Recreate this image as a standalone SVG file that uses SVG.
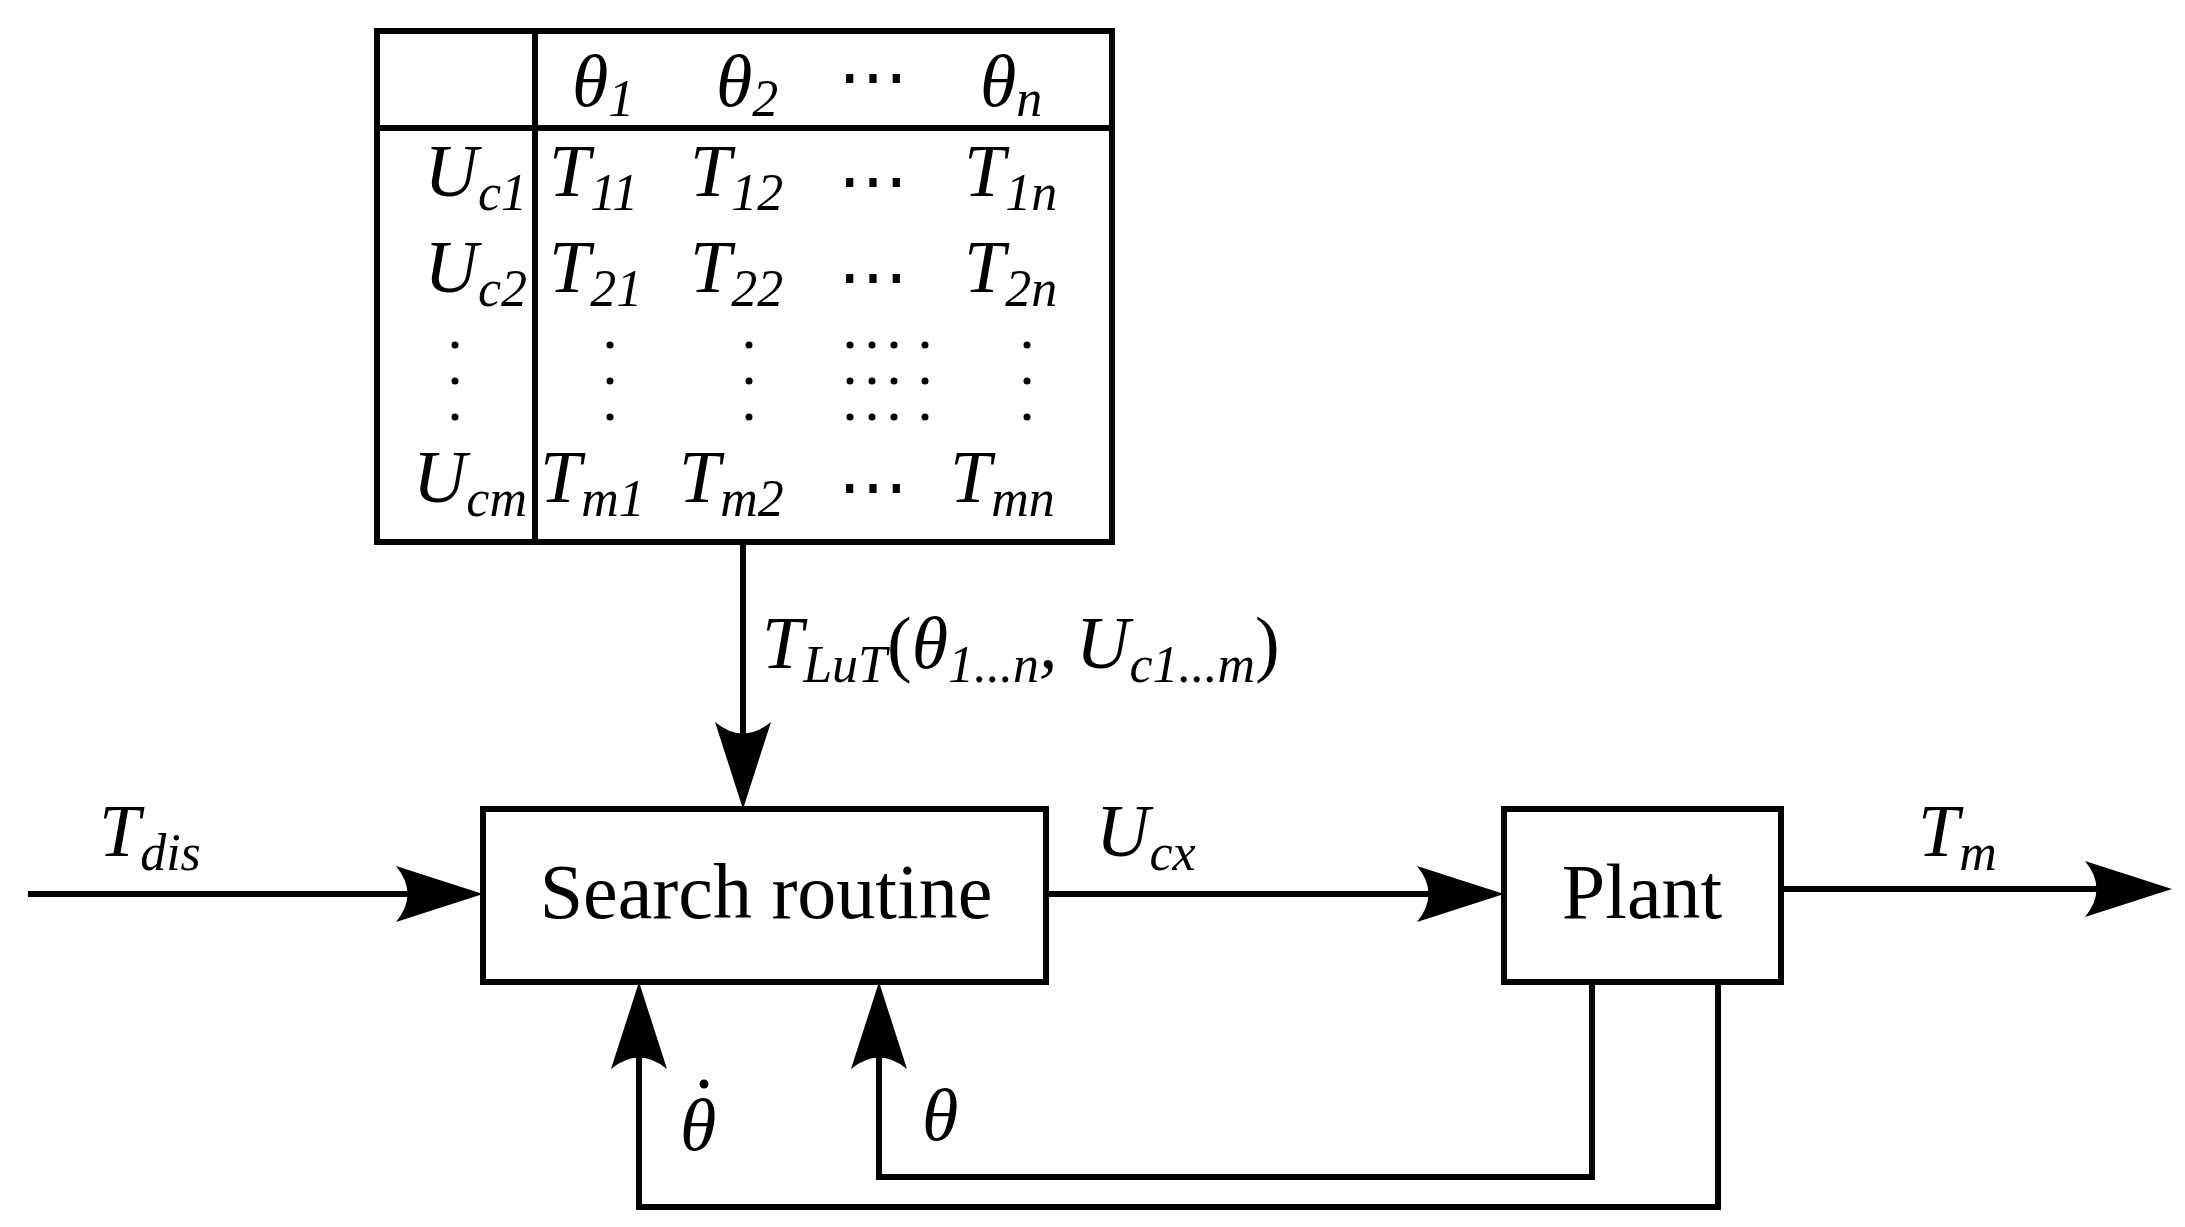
<svg xmlns="http://www.w3.org/2000/svg" width="2185" height="1227" viewBox="0 0 2185 1227">
<style>
.ln{fill:none;stroke:#000;stroke-width:6}
.m{font-family:"Liberation Serif",serif;font-style:italic;font-size:74px;fill:#000}
.s{font-size:52px}
.r{font-family:"Liberation Serif",serif;font-size:78px;fill:#000}
.dt{font-style:normal;font-size:70px}
.ah{fill:#000}
</style>
<rect width="2185" height="1227" fill="#fff"/>
<g id="lut">
<rect class="ln" x="377" y="31" width="735" height="511"/>
<line class="ln" x1="377" y1="128" x2="1112" y2="128"/>
<line class="ln" x1="535" y1="31" x2="535" y2="542"/>
<g class="m">
<text x="572" y="106">θ<tspan class="s" dy="10">1</tspan></text>
<text x="716" y="106">θ<tspan class="s" dy="10">2</tspan></text>
<text class="dt" x="838" y="100">⋯</text>
<text x="980" y="106">θ<tspan class="s" dy="10">n</tspan></text>
<text x="527" y="196" text-anchor="end">U<tspan class="s" dy="14">c1</tspan></text>
<text x="527" y="292" text-anchor="end">U<tspan class="s" dy="14">c2</tspan></text>
<text x="527" y="502" text-anchor="end">U<tspan class="s" dy="14">cm</tspan></text>
<text x="549" y="196">T<tspan class="s" dy="14">11</tspan></text>
<text x="690" y="196">T<tspan class="s" dy="14">12</tspan></text>
<text class="dt" x="838" y="204">⋯</text>
<text x="964" y="196">T<tspan class="s" dy="14">1n</tspan></text>
<text x="549" y="292">T<tspan class="s" dy="14">21</tspan></text>
<text x="690" y="292">T<tspan class="s" dy="14">22</tspan></text>
<text class="dt" x="838" y="300">⋯</text>
<text x="964" y="292">T<tspan class="s" dy="14">2n</tspan></text>
<text x="540" y="502">T<tspan class="s" dy="14">m1</tspan></text>
<text x="679" y="502">T<tspan class="s" dy="14">m2</tspan></text>
<text class="dt" x="838" y="510">⋯</text>
<text x="950" y="502">T<tspan class="s" dy="14">mn</tspan></text>
</g>
<g fill="#000">
<circle cx="455" cy="345" r="3.5"/><circle cx="455" cy="381" r="3.5"/><circle cx="455" cy="417" r="3.5"/>
<circle cx="610" cy="345" r="3.5"/><circle cx="610" cy="381" r="3.5"/><circle cx="610" cy="417" r="3.5"/>
<circle cx="749" cy="345" r="3.5"/><circle cx="749" cy="381" r="3.5"/><circle cx="749" cy="417" r="3.5"/>
<circle cx="850" cy="345" r="3.5"/><circle cx="850" cy="381" r="3.5"/><circle cx="850" cy="417" r="3.5"/>
<circle cx="872" cy="345" r="3.5"/><circle cx="872" cy="381" r="3.5"/><circle cx="872" cy="417" r="3.5"/>
<circle cx="894" cy="345" r="3.5"/><circle cx="894" cy="381" r="3.5"/><circle cx="894" cy="417" r="3.5"/>
<circle cx="925" cy="345" r="3.5"/><circle cx="925" cy="381" r="3.5"/><circle cx="925" cy="417" r="3.5"/>
<circle cx="1027" cy="345" r="3.5"/><circle cx="1027" cy="381" r="3.5"/><circle cx="1027" cy="417" r="3.5"/>
</g>
</g>
<g id="search">
<rect class="ln" x="483" y="809" width="563" height="173"/>
<text class="r" x="766" y="918" text-anchor="middle">Search routine</text>
</g>
<g id="plant">
<rect class="ln" x="1504" y="809" width="277" height="173"/>
<text class="r" x="1642" y="918" text-anchor="middle">Plant</text>
</g>
<g id="connectors">
<line class="ln" x1="743" y1="542" x2="743" y2="760"/>
<path class="ah" d="M743 809 L715 722 Q743 745 771 722 Z"/>
<line class="ln" x1="28" y1="894" x2="440" y2="894"/>
<path class="ah" d="M483 894 L396 866 Q419 894 396 922 Z"/>
<line class="ln" x1="1046" y1="894" x2="1460" y2="894"/>
<path class="ah" d="M1504 894 L1417 866 Q1440 894 1417 922 Z"/>
<line class="ln" x1="1781" y1="889" x2="2130" y2="889"/>
<path class="ah" d="M2172 889 L2085 861 Q2108 889 2085 917 Z"/>
<polyline class="ln" points="1592,982 1592,1177 879,1177 879,1030"/>
<path class="ah" d="M879 982 L851 1069 Q879 1046 907 1069 Z"/>
<polyline class="ln" points="1718,982 1718,1207 639,1207 639,1030"/>
<path class="ah" d="M639 982 L611 1069 Q639 1046 667 1069 Z"/>
</g>
<g class="m">
<text x="762" y="668">T<tspan class="s" dy="14">LuT</tspan><tspan dy="-14" font-style="normal">(</tspan>θ<tspan class="s" dy="14">1...n</tspan><tspan dy="-14">, U</tspan><tspan class="s" dy="14">c1...m</tspan><tspan dy="-14" font-style="normal">)</tspan></text>
<text x="99" y="856">T<tspan class="s" dy="14">dis</tspan></text>
<text x="1096" y="856">U<tspan class="s" dy="14">cx</tspan></text>
<text x="1918" y="856">T<tspan class="s" dy="14">m</tspan></text>
<text x="922" y="1140">θ</text>
<text x="680" y="1150">θ</text>
<circle cx="704" cy="1084" r="4.5" fill="#000"/>
</g>
</svg>
